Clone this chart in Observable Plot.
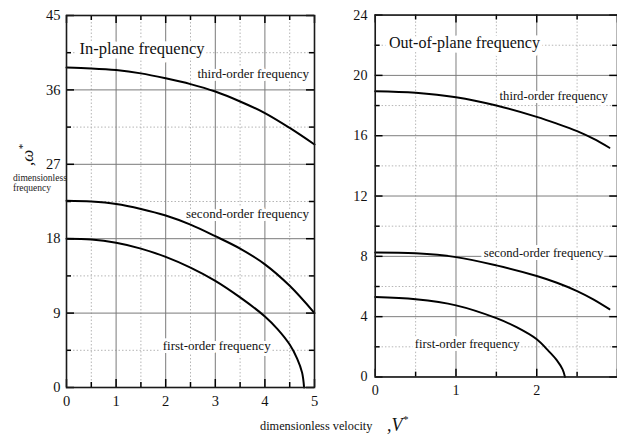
<!DOCTYPE html>
<html>
<head>
<meta charset="utf-8">
<script src="https://cdn.jsdelivr.net/npm/d3@7"></script>
<script src="https://cdn.jsdelivr.net/npm/@observablehq/plot@0.6"></script>
<style>
  html, body { margin: 0; padding: 0; background: #fff; }
  #wrap { position: relative; width: 617px; height: 436px; overflow: hidden; background: #fff; }
  #wrap > svg, #wrap > div { position: absolute; top: 0; }
  #left { left: 0; }
  #right { left: 330px; }
</style>
</head>
<body>
<div id="wrap">
  <div id="left"></div>
  <div id="right"></div>
</div>
<script>
// ---------- data ----------
// In-plane (left)
const leftV = [0, 0.5, 1, 1.5, 2, 2.5, 3, 3.5, 4, 4.5, 5];
const leftThird = [38.7, 38.6, 38.4, 38.0, 37.4, 36.7, 35.8, 34.6, 33.2, 31.4, 29.4];
const leftSecond = [22.6, 22.5, 22.2, 21.6, 20.8, 19.7, 18.3, 16.8, 14.9, 12.3, 9.0];
const leftFirstV = [0, 0.5, 1, 1.5, 2, 2.5, 3, 3.5, 4, 4.25, 4.5, 4.65, 4.75, 4.79];
const leftFirst = [18.0, 17.9, 17.5, 16.8, 15.8, 14.5, 12.9, 10.9, 8.6, 7.1, 5.2, 3.5, 1.8, 0];

// Out-of-plane (right)
const rightV = [0, 0.5, 1, 1.5, 2, 2.25, 2.5, 2.7, 2.9];
const rightThird = [18.95, 18.85, 18.55, 18.0, 17.25, 16.8, 16.3, 15.8, 15.2];
const rightSecond = [8.25, 8.2, 7.95, 7.4, 6.7, 6.25, 5.7, 5.15, 4.5];
const rightFirstV = [0, 0.5, 1, 1.5, 1.75, 2, 2.15, 2.25, 2.32, 2.35];
const rightFirst = [5.3, 5.15, 4.75, 3.9, 3.3, 2.5, 1.7, 1.1, 0.5, 0];

// ticks
const leftXTicks = [0, 1, 2, 3, 4, 5];
const leftXMinor = [0.5, 1.5, 2.5, 3.5, 4.5];
const leftYTicks = [0, 9, 18, 27, 36, 45];
const leftYMinor = [4.5, 13.5, 22.5, 31.5, 40.5];
const rightXTicks = [0, 1, 2, 3];
const rightXLabels = [0, 1, 2];
const rightXMinor = [0.5, 1.5, 2.5];
const rightYTicks = [0, 4, 8, 12, 16, 20, 24];
const rightYMinor = [2, 6, 10, 14, 18, 22];

// annotations (text, anchor in data units)
const leftTitle = [{text: "In-plane frequency", x: 0.26, y: 41.0}];
const leftLabels = [
  {text: "third-order frequency", x: 2.64, y: 38.0},
  {text: "second-order frequency", x: 2.41, y: 21.0},
  {text: "first-order frequency", x: 1.94, y: 5.1}
];
const rightTitle = [{text: "Out-of-plane frequency", x: 0.17, y: 22.15}];
const rightLabels = [
  {text: "third-order frequency", x: 1.54, y: 18.65},
  {text: "second-order frequency", x: 1.345, y: 8.25},
  {text: "first-order frequency", x: 0.49, y: 2.17}
];

const serif = "'Liberation Serif', 'Times New Roman', 'DejaVu Serif', serif";
const majorGrid = {stroke: "#7a7a7a", strokeOpacity: 1, strokeWidth: 1};
const minorGrid = {stroke: "#b5b5b5", strokeOpacity: 1, strokeWidth: 1, strokeDasharray: "1.5,2"};
const pairs = (xs, ys) => xs.map((x, i) => ({x, y: ys[i]}));
const H = 412, MT = 15, MB = 25;

function panel({width, marginLeft, marginRight, xDomain, yDomain, xTicks, xLabels, xMinor, yTicks, yMinor, curves, title, labels, rightAxis}) {
  const ih = H - MT - MB;                      // inner height
  const iw = width - marginLeft - marginRight; // inner width
  const tk = {stroke: "#000", strokeWidth: 1.5, strokeOpacity: 1};
  const marks = [
    Plot.gridX(xMinor, minorGrid),
    Plot.gridY(yMinor, minorGrid),
    Plot.gridX(xTicks, majorGrid),
    Plot.gridY(yTicks, majorGrid),
    Plot.text(title, {x: "x", y: "y", text: "text", textAnchor: "start", fontSize: 16.5, fontFamily: serif, fill: "#111", stroke: "white", strokeWidth: 9}),
    Plot.text(labels, {x: "x", y: "y", text: "text", textAnchor: "start", fontSize: 13, fontFamily: serif, fill: "#111", stroke: "white", strokeWidth: 6}),
    ...curves.map(c => Plot.line(c, {x: "x", y: "y", stroke: "#000", strokeWidth: 2, curve: "catmull-rom"})),
    // tick labels
    Plot.axisX(xLabels, {anchor: "bottom", tickSize: 0, tickPadding: 8, label: null, fontSize: 14.5, fill: "#111"}),
    Plot.axisY(yTicks, {anchor: "left", tickSize: 0, tickPadding: rightAxis ? 8 : 6, label: null, fontSize: 14.5, fill: "#111"}),
    // inward ticks on all four sides
    Plot.tickX(xTicks, {x: d => d, insetTop: ih - 8, ...tk}),
    Plot.tickX(xMinor, {x: d => d, insetTop: ih - 5, ...tk}),
    Plot.tickX(xTicks, {x: d => d, insetBottom: ih - 8, ...tk}),
    Plot.tickX(xMinor, {x: d => d, insetBottom: ih - 5, ...tk}),
    Plot.tickY(yTicks, {y: d => d, insetRight: iw - 8, ...tk}),
    Plot.tickY(yMinor, {y: d => d, insetRight: iw - 5, ...tk}),
    Plot.tickY(yTicks, {y: d => d, insetLeft: iw - 8, ...tk}),
    Plot.tickY(yMinor, {y: d => d, insetLeft: iw - 5, ...tk}),
    Plot.frame({stroke: "#1a1a1a", strokeWidth: 1.6})
  ];
  return Plot.plot({
    width, height: H,
    marginLeft, marginRight, marginTop: MT, marginBottom: MB,
    style: {fontFamily: serif, fontSize: "14px", background: "transparent", overflow: "visible"},
    x: {domain: xDomain, label: null},
    y: {domain: yDomain, label: null},
    marks
  });
}

const left = panel({
  width: 324, marginLeft: 66, marginRight: 10,
  xDomain: [0, 5], yDomain: [0, 45],
  xTicks: leftXTicks, xLabels: leftXTicks, xMinor: leftXMinor, yTicks: leftYTicks, yMinor: leftYMinor,
  curves: [pairs(leftV, leftThird), pairs(leftV, leftSecond), pairs(leftFirstV, leftFirst)],
  title: leftTitle, labels: leftLabels, rightAxis: false
});
const right = panel({
  width: 295, marginLeft: 46, marginRight: 0,
  xDomain: [0, 3], yDomain: [0, 24],
  xTicks: rightXTicks, xLabels: rightXLabels, xMinor: rightXMinor, yTicks: rightYTicks, yMinor: rightYMinor,
  curves: [pairs(rightV, rightThird), pairs(rightV, rightSecond), pairs(rightFirstV, rightFirst)],
  title: rightTitle, labels: rightLabels, rightAxis: true
});
document.getElementById("left").appendChild(left);
document.getElementById("right").appendChild(right);

// axis titles overlay
const ov = d3.select("#wrap").append("svg")
  .attr("width", 617).attr("height", 436)
  .style("position", "absolute").style("left", "0px").style("top", "0px").style("pointer-events", "none");

const yl = ov.append("text")
  .attr("transform", "translate(33,155) rotate(-90)")
  .attr("text-anchor", "middle")
  .attr("font-family", serif).attr("font-style", "italic").attr("font-size", 17).attr("fill", "#111");
yl.append("tspan").text(",ω");
yl.append("tspan").attr("dy", -7).attr("font-size", 11).text("*");

ov.append("text").attr("x", 13).attr("y", 181).attr("font-family", serif).attr("font-size", 9.5).attr("fill", "#222").text("dimensionless");
ov.append("text").attr("x", 13).attr("y", 190.5).attr("font-family", serif).attr("font-size", 9.5).attr("fill", "#222").text("frequency");

ov.append("text").attr("x", 260).attr("y", 430).attr("font-family", serif).attr("font-size", 12.3).attr("fill", "#111").text("dimensionless velocity");
const xl = ov.append("text").attr("x", 387).attr("y", 431)
  .attr("font-family", serif).attr("font-style", "italic").attr("font-size", 18).attr("fill", "#111");
xl.append("tspan").text(",V");
xl.append("tspan").attr("dy", -8).attr("font-size", 11).text("*");
</script>
</body>
</html>
